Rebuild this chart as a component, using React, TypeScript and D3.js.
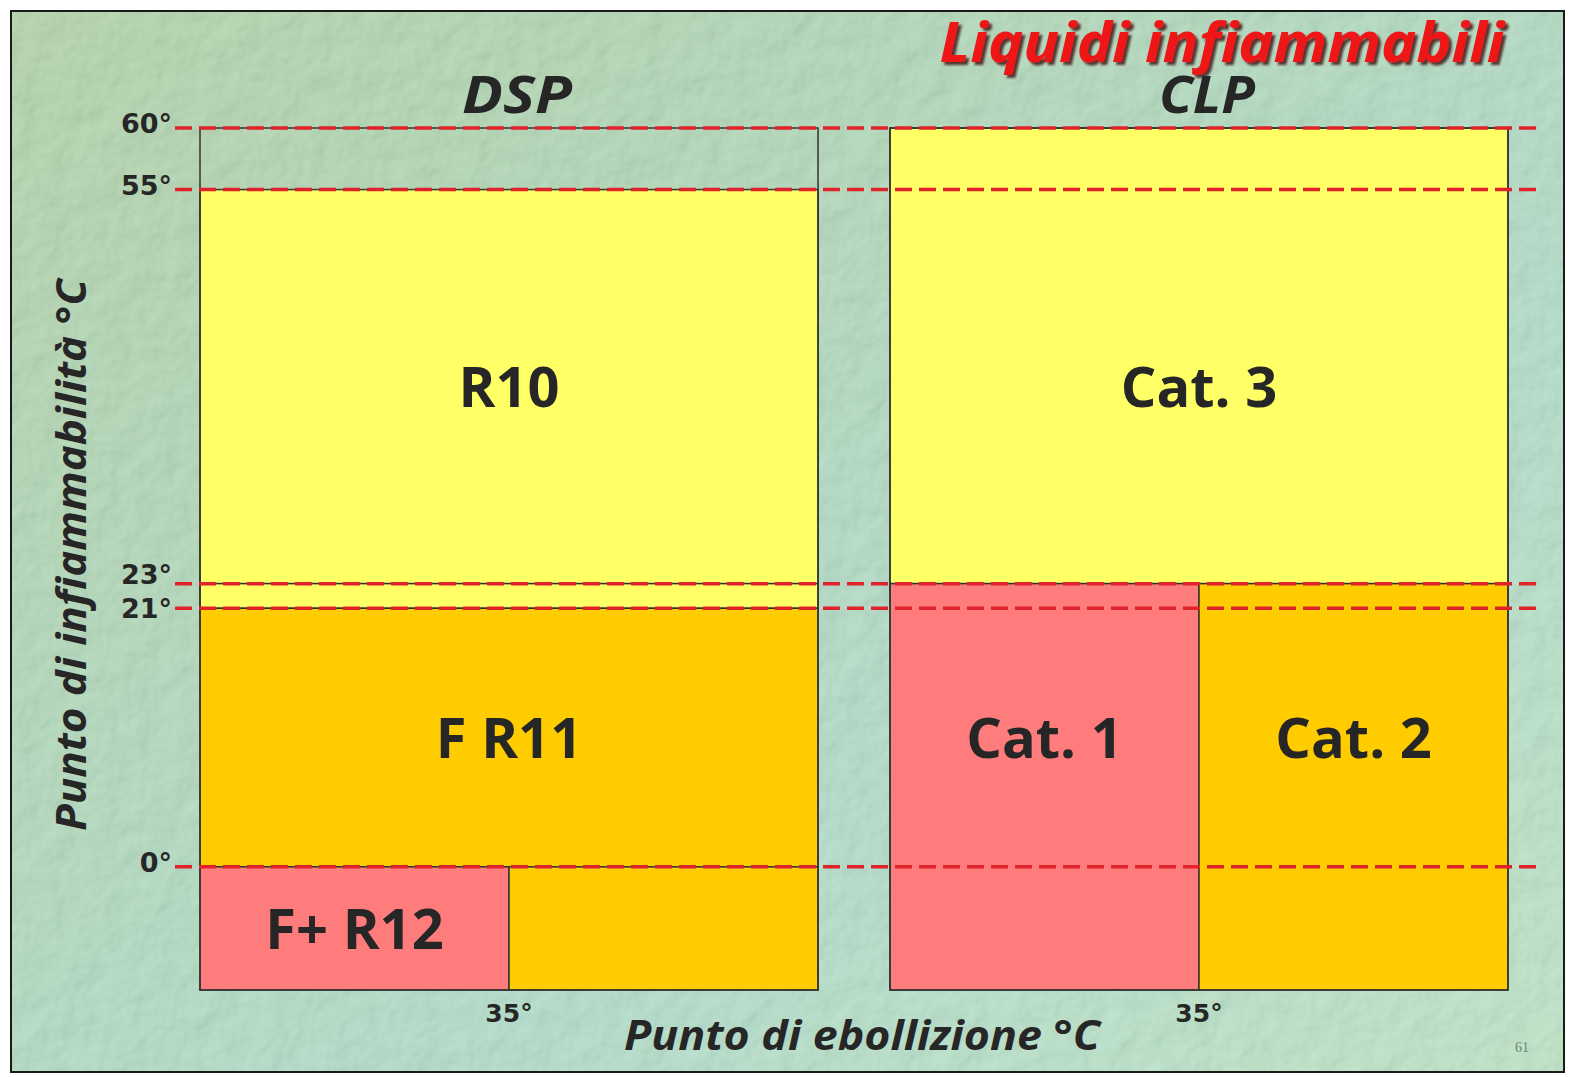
import React from 'react';
import * as d3 from 'd3';

// panels and flash point thresholds (°C)
const panels = ['DSP', 'CLP'];
const flashTicks = [60, 55, 23, 21, 0];
const flashDomain = [-10, 60];
const boilingDomain = [0, 70];
const boilingTicks = [35];

// hazard zones
const zonePanel = ['DSP', 'DSP', 'DSP', 'DSP', 'DSP', 'CLP', 'CLP', 'CLP'];
const zoneLabel = ['R10', '', 'F R11', 'F+ R12', '', 'Cat. 3', 'Cat. 1', 'Cat. 2'];
const zoneLevel = ['low', 'low', 'mid', 'high', 'mid', 'low', 'high', 'mid'];
const zoneBoiling = [[0, 70], [0, 70], [0, 70], [0, 35], [35, 70], [0, 70], [0, 35], [35, 70]];
const zoneFlash = [[23, 55], [21, 23], [0, 21], [-10, 0], [-10, 0], [23, 60], [-10, 23], [-10, 23]];
const zoneLabelFlash = [39, null, 10.5, -5, null, 39, 10.5, 10.5];

const title = 'Liquidi infiammabili';
const xTitle = 'Punto di ebollizione °C';
const yTitle = 'Punto di infiammabilità °C';
const pageNumber = '61';

const W = 1570, H = 1077;
const levelColor: Record<string, string> = { low: '#FFFF66', mid: '#FFCC00', high: '#FF7C7C' };
const font = "'Comic Sans MS', 'Open Sans', 'DejaVu Sans', sans-serif";
const ink = '#262626';

export default function App() {
  const y = d3.scaleLinear().domain(flashDomain).range([990, 128]);
  const px = d3.scaleBand<string>().domain(panels).range([200, 1508]).paddingInner(0.1043);
  const bw = px.bandwidth();
  const xFor = (p: string) =>
    d3.scaleLinear().domain(boilingDomain).range([px(p)!, px(p)! + bw]);

  const zones = zonePanel.map((p, i) => ({
    panel: p,
    label: zoneLabel[i],
    level: zoneLevel[i],
    bp: zoneBoiling[i],
    fp: zoneFlash[i],
    labelAt: zoneLabelFlash[i],
  }));

  // push close tick labels apart
  const tickNudge = (t: number) => {
    const near = flashTicks.find(o => o !== t && Math.abs(o - t) <= 3);
    if (near === undefined) return 5;
    return t > near ? 0 : 10;
  };

  return (
    <svg width={W} height={H} style={{ position: 'absolute', left: 0, top: 0, background: '#fff' }}>
      <defs>
        <linearGradient id="bg" x1="0" y1="0" x2="1" y2="1">
          <stop offset="0" stopColor="#a6cc9c" />
          <stop offset="0.35" stopColor="#a4d2ae" />
          <stop offset="0.65" stopColor="#a4d7c0" />
          <stop offset="1" stopColor="#b3e0bb" />
        </linearGradient>
        <filter id="tex" x="0" y="0" width="100%" height="100%">
          <feTurbulence type="fractalNoise" baseFrequency="0.035" numOctaves="3" seed="7" />
          <feDiffuseLighting lightingColor="#ffffff" surfaceScale="3">
            <feDistantLight azimuth="225" elevation="50" />
          </feDiffuseLighting>
        </filter>
        <filter id="shadow" x="-5%" y="-20%" width="110%" height="150%">
          <feDropShadow dx="3" dy="3" stdDeviation="0.8" floodColor="#3a1010" floodOpacity="0.8" />
        </filter>
      </defs>

      {/* slide background */}
      <rect x={11} y={11} width={1553} height={1061} fill="url(#bg)" />
      <rect x={11} y={11} width={1553} height={1061} filter="url(#tex)" opacity={0.26} />
      <rect x={11} y={11} width={1553} height={1061} fill="none" stroke="#1a1a1a" strokeWidth={2} />

      {/* title */}
      <text x={1222} y={62} textAnchor="middle" fontFamily={font} fontSize={56} fontWeight="bold"
        fontStyle="italic" fill="#EE1414" filter="url(#shadow)" textLength={565}
        lengthAdjust="spacingAndGlyphs">{title}</text>

      {/* panel headers */}
      {panels.map(p => (
        <text key={p} x={px(p)! + bw / 2 + 8} y={113} textAnchor="middle" fontFamily={font}
          fontSize={52} fontWeight="bold" fontStyle="italic" fill={ink}
          textLength={p === 'DSP' ? 110 : 96} lengthAdjust="spacingAndGlyphs">{p}</text>
      ))}

      {/* zones */}
      {zones.map((z, i) => {
        const x = xFor(z.panel);
        return (
          <rect key={i} x={x(z.bp[0])} y={y(z.fp[1])} width={x(z.bp[1]) - x(z.bp[0])}
            height={y(z.fp[0]) - y(z.fp[1])} fill={levelColor[z.level]} stroke="#333" strokeWidth={1.5} />
        );
      })}

      {/* panel outlines */}
      {panels.map(p => (
        <rect key={p} x={px(p)} y={y(flashDomain[1])} width={bw}
          height={y(flashDomain[0]) - y(flashDomain[1])} fill="none" stroke="#333" strokeWidth={1.5} />
      ))}

      {/* threshold lines */}
      {flashTicks.map(t => (
        <g key={t}>
          <line x1={175} x2={1537} y1={y(t)} y2={y(t)} stroke="#E0222A" strokeWidth={3.5} strokeDasharray="17 7" />
          <text x={172} y={y(t) + tickNudge(t)} textAnchor="end" fontFamily="'DejaVu Sans', sans-serif"
            fontSize={27} fontWeight="bold" fill={ink}>{t}°</text>
        </g>
      ))}

      {/* zone labels */}
      {zones.filter(z => z.label).map((z, i) => {
        const x = xFor(z.panel);
        return (
          <text key={i} x={(x(z.bp[0]) + x(z.bp[1])) / 2} y={y(z.labelAt as number)} dy="0.36em"
            textAnchor="middle" fontFamily={font} fontSize={56} fontWeight="bold" fill={ink}>{z.label}</text>
        );
      })}

      {/* boiling point ticks */}
      {panels.map(p => boilingTicks.map(b => (
        <text key={p + b} x={xFor(p)(b)} y={1022} textAnchor="middle" fontFamily="'DejaVu Sans', sans-serif"
          fontSize={25} fontWeight="bold" fill={ink}>{b}°</text>
      )))}

      {/* axis titles */}
      <text x={862} y={1050} textAnchor="middle" fontFamily={font} fontSize={42} fontWeight="bold"
        fontStyle="italic" fill={ink} textLength={476} lengthAdjust="spacingAndGlyphs">{xTitle}</text>
      <text transform="translate(86,555) rotate(-90)" textAnchor="middle" fontFamily={font} fontSize={42}
        fontWeight="bold" fontStyle="italic" fill={ink} textLength={552} lengthAdjust="spacingAndGlyphs">{yTitle}</text>

      <text x={1522} y={1052} textAnchor="middle" fontFamily="'Liberation Serif', serif" fontSize={14}
        fill="#6f7f70">{pageNumber}</text>
    </svg>
  );
}
